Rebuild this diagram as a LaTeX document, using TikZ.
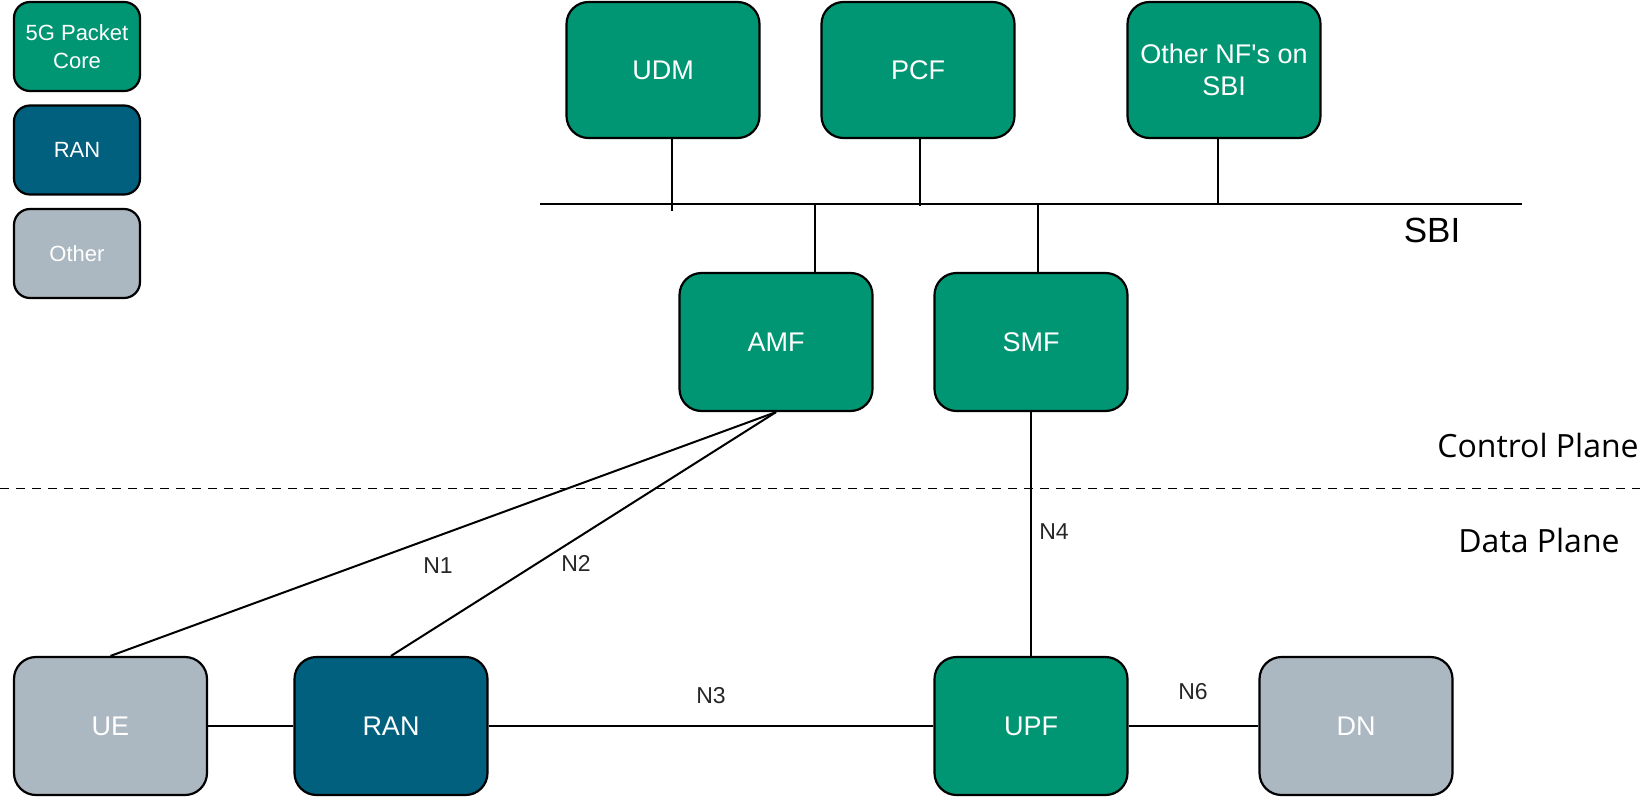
\documentclass[tikz,border=0pt]{standalone}
\usepackage{fontspec}
\setmainfont{Liberation Sans}
\newfontfamily\opensans{Open Sans}
\definecolor{coregreen}{HTML}{009673}
\definecolor{ranblue}{HTML}{00607E}
\definecolor{othergray}{HTML}{ABB7C1}
\tikzset{
  nfbox/.style={draw=black, line width=2.2pt, rounded corners=22pt, minimum width=193pt, minimum height=137pt, text=white, align=center, font=\fontsize{27}{32}\selectfont},
  legbox/.style={draw=black, line width=2.2pt, rounded corners=16pt, minimum width=126pt, minimum height=89pt, text=white, align=center, font=\fontsize{22}{28}\selectfont},
  core/.style={fill=coregreen},
  ran/.style={fill=ranblue},
  oth/.style={fill=othergray},
  link/.style={line width=2pt, black},
  ilabel/.style={font=\fontsize{23}{26}\selectfont, text=black!85},
  plane/.style={font=\opensans\fontsize{32}{36}\selectfont, text=black}
}
\begin{document}
\begin{tikzpicture}[x=1pt,y=-1pt]
\useasboundingbox (0,0) rectangle (1640,797);
% legend
\node[legbox,core] (leg1) at (77,46.5) {5G Packet\\Core};
\node[legbox,ran] (leg2) at (77,150) {RAN};
\node[legbox,oth] (leg3) at (77,253.5) {Other};
% top NFs
\node[nfbox,core,minimum height=136pt] (UDM) at (663,70) {UDM};
\node[nfbox,core,minimum height=136pt] (PCF) at (918,70) {PCF};
\node[nfbox,core,minimum height=136pt] (ONF) at (1224,70) {Other NF\textquotesingle s on\\SBI};
% SBI bus
\coordinate (sbiL) at (540,204);
\coordinate (sbiR) at (1522,204);
\draw[link] (sbiL) -- (sbiR);
\coordinate (sUDM) at (672,211);
\coordinate (sPCF) at (920,206);
\coordinate (sONF) at (1218,204);
\draw[link] (UDM.south -| sUDM) -- (sUDM);
\draw[link] (PCF.south -| sPCF) -- (sPCF);
\draw[link] (ONF.south -| sONF) -- (sONF);
\node[font=\fontsize{35}{40}\selectfont] (sbilabel) at (1432,230) {SBI};
% AMF SMF
\node[nfbox,core,minimum height=138pt] (AMF) at (776,342) {AMF};
\node[nfbox,core,minimum height=138pt] (SMF) at (1031,342) {SMF};
\coordinate (sAMF) at (815,204);
\coordinate (sSMF) at (1038,204);
\draw[link] (sAMF) -- (AMF.north -| sAMF);
\draw[link] (sSMF) -- (SMF.north -| sSMF);
% planes
\coordinate (dashL) at (0,488.5);
\coordinate (dashR) at (1640,488.5);
\draw[line width=1.8pt, dash pattern=on 9pt off 7pt] (dashL) -- (dashR);
\node[plane] (cp) at (1538,445) {Control Plane};
\node[plane] (dp) at (1539,540) {Data Plane};
% bottom row
\node[nfbox,oth,minimum height=138pt] (UE) at (110.5,726) {UE};
\node[nfbox,ran,minimum height=138pt] (RAN) at (391,726) {RAN};
\node[nfbox,core,minimum height=138pt] (UPF) at (1031,726) {UPF};
\node[nfbox,oth,minimum height=138pt] (DN) at (1356,726) {DN};
% connectors
\draw[link] (AMF.south) -- (UE.north);
\draw[link] (AMF.south) -- (RAN.north);
\draw[link] (SMF.south) -- (UPF.north);
\draw[link] (UE.east) -- (RAN.west);
\draw[link] (RAN.east) -- (UPF.west);
\draw[link] (UPF.east) -- (DN.west);
% interface labels
\node[ilabel] (n1) at (438,566) {N1};
\node[ilabel] (n2) at (576,563) {N2};
\node[ilabel] (n3) at (711,696) {N3};
\node[ilabel] (n4) at (1054,532) {N4};
\node[ilabel] (n6) at (1193,692) {N6};
\end{tikzpicture}
\end{document}
